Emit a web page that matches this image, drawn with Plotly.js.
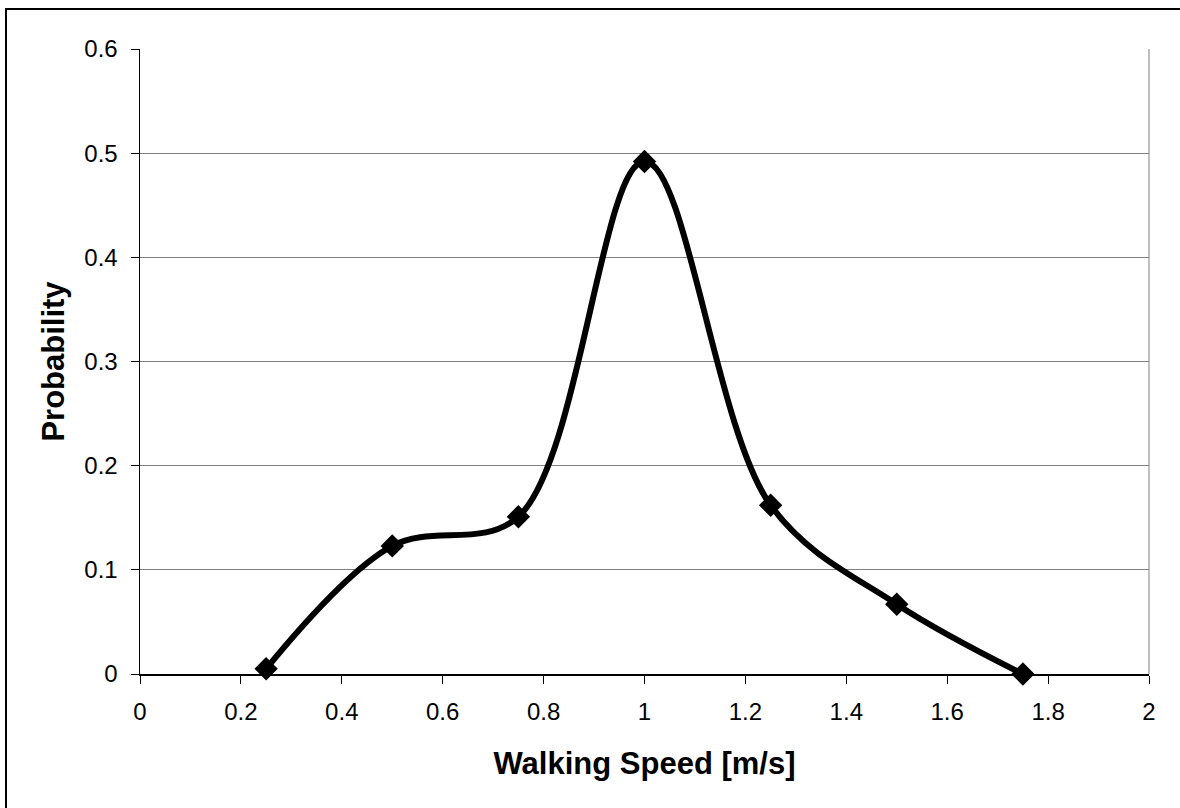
<!DOCTYPE html>
<html>
<head>
<meta charset="utf-8">
<script src="https://cdn.plot.ly/plotly-3.0.1.min.js"></script>
<style>
html, body { margin:0; padding:0; background:#fff; overflow:hidden; }
#chart { width:1180px; height:808px; }
#frame { position:absolute; left:5px; top:8px; width:1300px; height:1000px; border-left:2px solid #000; border-top:2px solid #000; pointer-events:none; }
</style>
</head>
<body>
<div id="chart"></div>
<div id="frame"></div>
<script>
const speed = [0.25, 0.5, 0.75, 1.0, 1.25, 1.5, 1.75];
const probability = [0.005, 0.123, 0.151, 0.492, 0.162, 0.067, 0.0];
const xTitle = 'Walking Speed [m/s]';
const yTitle = 'Probability';

const trace = {
  x: speed, y: probability, type: 'scatter', mode: 'lines+markers',
  line: { color: '#000', width: 6, shape: 'spline', smoothing: 1 },
  marker: { symbol: 'diamond', size: 18, color: '#000' },
  hoverinfo: 'x+y', cliponaxis: false
};

const fam = 'Liberation Sans, Arial, sans-serif';

const layout = {
  width: 1180, height: 808,
  margin: { l: 140, r: 31, t: 49, b: 134 },
  paper_bgcolor: '#fff', plot_bgcolor: '#fff',
  showlegend: false,
  font: { family: fam, color: '#000' },
  xaxis: {
    range: [0, 2], dtick: 0.2, tick0: 0,
    showgrid: false, zeroline: false,
    showline: true, linecolor: '#000', linewidth: 1.5,
    ticks: 'outside', ticklen: 8, tickcolor: '#000', tickwidth: 1,
    ticklabelstandoff: 8,
    tickfont: { family: fam, size: 24, color: '#000' },
    title: { text: xTitle, font: { family: fam, size: 31, color: '#000', weight: 'bold' }, standoff: 28 }
  },
  yaxis: {
    range: [0, 0.6], dtick: 0.1, tick0: 0,
    showgrid: true, gridcolor: '#808080', gridwidth: 1,
    zeroline: false,
    showline: true, linecolor: '#000', linewidth: 1.5,
    ticks: 'outside', ticklen: 8, tickcolor: '#000', tickwidth: 1,
    ticklabelstandoff: 8,
    tickfont: { family: fam, size: 24, color: '#000' },
    title: { text: yTitle, font: { family: fam, size: 31, color: '#000', weight: 'bold' }, standoff: 10 }
  },
  shapes: [
    { type: 'line', xref: 'paper', yref: 'paper', x0: 1, x1: 1, y0: 0, y1: 1, line: { color: '#808080', width: 1 } }
  ]
};

Plotly.newPlot('chart', [trace], layout, { displayModeBar: false, staticPlot: true });
</script>
</body>
</html>
